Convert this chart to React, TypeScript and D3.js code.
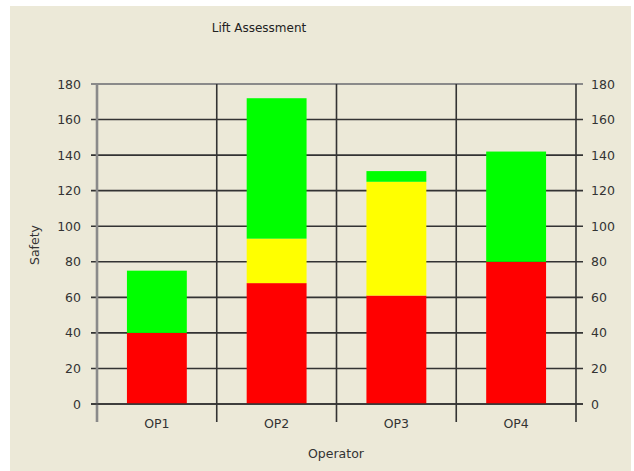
import React from 'react';
import * as d3 from 'd3';

// chart data
const operators = ['OP1', 'OP2', 'OP3', 'OP4'];
const redValues = [40, 68, 61, 80];
const yellowValues = [0, 25, 64, 0];
const greenValues = [35, 79, 6, 62];
const yTicks = [0, 20, 40, 60, 80, 100, 120, 140, 160, 180];

const seriesKeys = ['red', 'yellow', 'green'];
const seriesColors: Record<string, string> = { red: '#ff0000', yellow: '#ffff00', green: '#00ff00' };

const W = 634;
const H = 471;
const left = 97;
const right = 576;
const top = 84;
const bottom = 404;
const font = '"DejaVu Sans", Tahoma, sans-serif';

const App = () => {
  const rows = operators.map((op, i) => ({
    op,
    red: redValues[i],
    yellow: yellowValues[i],
    green: greenValues[i],
  }));

  const stacked = d3.stack<any>().keys(seriesKeys)(rows);

  const x = d3.scaleBand().domain(operators).range([left, right]).paddingInner(0).paddingOuter(0);
  const y = d3.scaleLinear().domain([0, 180]).range([bottom, top]);
  const barW = x.bandwidth() * 0.5;

  const boundaries = operators.map((op) => x(op) as number).concat([right]);

  return (
    <svg width={W} height={H} style={{ position: 'absolute', top: 0, left: 0 }}>
      <rect x={0} y={0} width={W} height={H} fill="#ffffff" />
      <rect x={10} y={6} width={621} height={H - 6} fill="#ece9d8" />

      <text x={259} y={32} fontFamily={font} fontSize={12} fill="#222" textAnchor="middle">
        Lift Assessment
      </text>

      {/* horizontal grid + ticks */}
      {yTicks.map((t) => (
        <line
          key={'g' + t}
          x1={left - 6}
          x2={right + 7}
          y1={y(t)}
          y2={y(t)}
          stroke={t === 180 ? '#8a8a8a' : '#333'}
          strokeWidth={t === 180 ? 2.2 : 1.6}
        />
      ))}

      {/* vertical category lines */}
      {boundaries.map((b, i) => (
        <line
          key={'v' + i}
          x1={b}
          x2={b}
          y1={top}
          y2={bottom + 18}
          stroke={i === 0 ? '#8a8a8a' : '#333'}
          strokeWidth={i === 0 ? 2.6 : 1.6}
        />
      ))}

      {/* bars */}
      {stacked.map((layer) => (
        <g key={layer.key} fill={seriesColors[layer.key]}>
          {layer.map((d, i) => {
            const h = y(d[0]) - y(d[1]);
            if (h <= 0) return null;
            return (
              <rect
                key={i}
                x={(x(operators[i]) as number) + (x.bandwidth() - barW) / 2}
                y={y(d[1])}
                width={barW}
                height={h}
              />
            );
          })}
        </g>
      ))}

      {/* baseline on top of bars */}
      <line x1={left - 6} x2={right + 7} y1={y(0)} y2={y(0)} stroke="#333" strokeWidth={1.6} />

      {/* tick labels */}
      {yTicks.map((t) => (
        <g key={'l' + t} fontFamily={font} fontSize={12.5} fill="#333">
          <text x={81} y={y(t) + 4.5} textAnchor="end">{t}</text>
          <text x={591} y={y(t) + 4.5} textAnchor="start">{t}</text>
        </g>
      ))}

      {operators.map((op) => (
        <text
          key={op}
          x={(x(op) as number) + x.bandwidth() / 2}
          y={428}
          fontFamily={font}
          fontSize={12.5}
          fill="#333"
          textAnchor="middle"
        >
          {op}
        </text>
      ))}

      <text x={336} y={458} fontFamily={font} fontSize={12.5} fill="#333" textAnchor="middle">
        Operator
      </text>
      <text
        transform={`translate(39, 245) rotate(-90)`}
        fontFamily={font}
        fontSize={12.5}
        fill="#333"
        textAnchor="middle"
      >
        Safety
      </text>
    </svg>
  );
};

export default App;
